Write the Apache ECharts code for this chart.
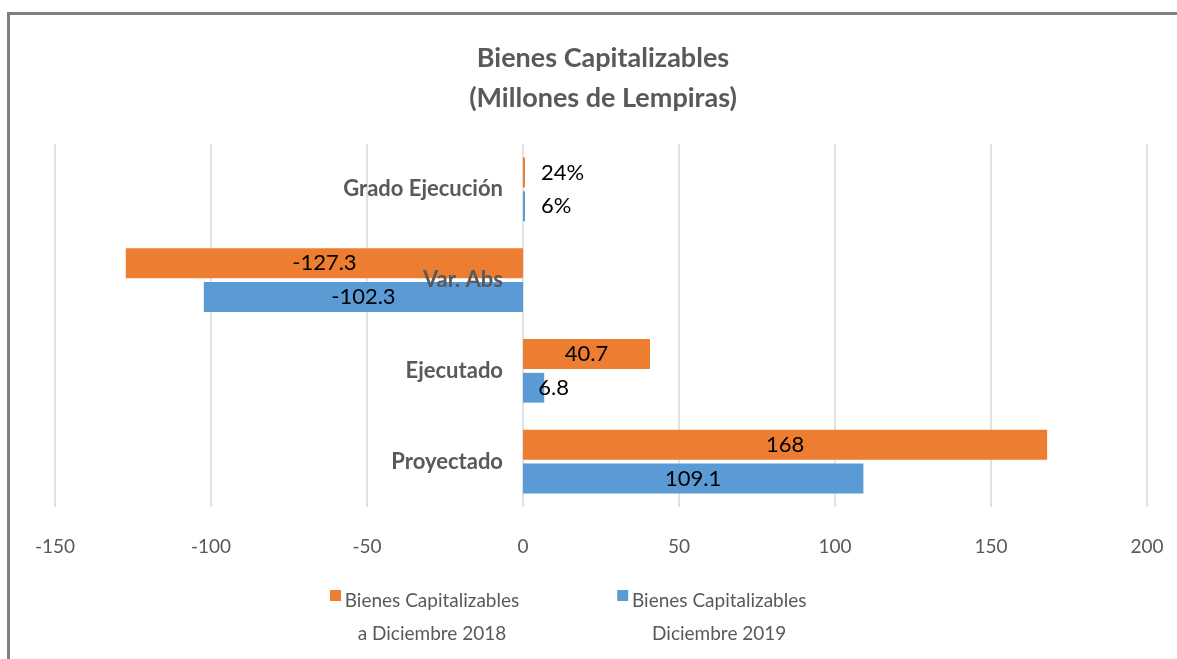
<!DOCTYPE html>
<html>
<head>
<meta charset="utf-8">
<script src="https://cdn.jsdelivr.net/npm/echarts@6/dist/echarts.min.js"></script>
<style>html,body{margin:0;padding:0;background:#fff;}#c{width:1177px;height:659px;}</style>
</head>
<body>
<div id="c"></div>
<script>
var categories = ['Proyectado', 'Ejecutado', 'Var. Abs', 'Grado Ejecución'];
var series2018 = [168, 40.7, -127.3, 0.24];
var series2019 = [109.1, 6.8, -102.3, 0.06];
var seriesNames = ['Bienes Capitalizables\na Diciembre 2018', 'Bienes Capitalizables\nDiciembre 2019'];
var xTicks = { min: -150, max: 200, interval: 50 };
var titleText = 'Bienes Capitalizables\n(Millones de Lempiras)';

var FONT = "Lato, 'Open Sans', sans-serif";
var GREY = '#595959';
var GRID_LEFT = 55;

function fmt(v, idx) {
  if (categories[idx] === 'Grado Ejecución') return Math.round(v * 100) + '%';
  return String(v);
}
function makeData(arr) {
  return arr.map(function (v, i) {
    var d = { value: v };
    if (Math.abs(v) < 10) {
      d.label = { position: 'right', distance: categories[i] === 'Grado Ejecución' ? 16 : -6 };
    }
    return d;
  });
}
var labelCfg = {
  show: true, position: 'inside', color: '#000', fontSize: 22, fontFamily: FONT,
  formatter: function (p) { return fmt(p.value, p.dataIndex); }
};

var chart = echarts.init(document.getElementById('c'), null, { renderer: 'canvas' });
chart.setOption({
  animation: false,
  backgroundColor: '#fff',
  title: {
    text: titleText, left: 598, textAlign: 'center', top: 33,
    textStyle: { fontSize: 27, fontWeight: 'bold', color: GREY, fontFamily: FONT, lineHeight: 40 }
  },
  graphic: [{
    type: 'rect', silent: true, z: 100,
    shape: { x: 8.5, y: 13.5, width: 1300, height: 800 },
    style: { fill: 'none', stroke: '#7f7f7f', lineWidth: 3 }
  }],
  legend: {
    bottom: 9, left: 325, itemWidth: 11, itemHeight: 55, itemGap: 98,
    icon: 'path://M0,0 L10,0 L10,10 L0,10 Z M0,50 L0.001,50 L0,49.999 Z',
    data: seriesNames,
    formatter: function (name) {
      return name.split('\n').map(function (s) { return '{a|' + s + '}'; }).join('\n');
    },
    textStyle: {
      color: GREY, fontSize: 19, fontFamily: FONT,
      rich: { a: { width: 172, align: 'center', fontSize: 19, fontFamily: FONT, color: GREY, lineHeight: 33 } }
    }
  },
  grid: { left: GRID_LEFT, right: 30, top: 144, bottom: 152, containLabel: false, outerBoundsMode: 'none' },
  xAxis: {
    type: 'value', min: xTicks.min, max: xTicks.max, interval: xTicks.interval,
    axisLine: { show: false }, axisTick: { show: false },
    axisLabel: { color: GREY, fontSize: 19, fontFamily: FONT, margin: 30 },
    splitLine: { lineStyle: { color: '#d9d9d9', width: 1.5 } }
  },
  yAxis: {
    type: 'category', data: categories, zlevel: 1, z: 10,
    axisLine: { show: false, onZero: false }, axisTick: { show: false },
    axisLabel: { color: GREY, fontSize: 22, fontWeight: 'bold', fontFamily: FONT, margin: 20 }
  },
  series: [
    { name: seriesNames[0], type: 'bar', data: makeData(series2018), itemStyle: { color: '#ED7D31' },
      barCategoryGap: '30%', barGap: '13%', barMinHeight: 2, label: labelCfg },
    { name: seriesNames[1], type: 'bar', data: makeData(series2019), itemStyle: { color: '#5B9BD5' },
      barCategoryGap: '30%', barGap: '13%', barMinHeight: 2, label: labelCfg }
  ]
});
// place the category axis (and its labels) at value 0 of the x axis
var zeroPx = chart.convertToPixel({ xAxisIndex: 0 }, 0);
chart.setOption({ yAxis: { offset: -(zeroPx - GRID_LEFT) } });
</script>
</body>
</html>
